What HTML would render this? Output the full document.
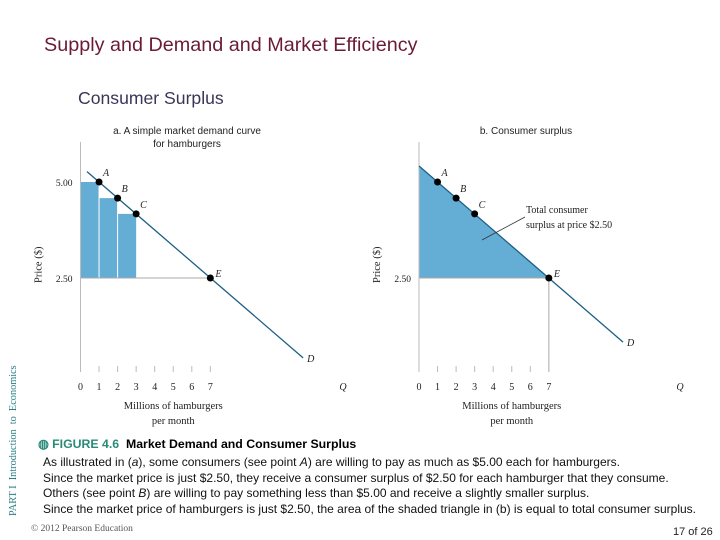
<!DOCTYPE html>
<html><head><meta charset="utf-8"><style>
body{margin:0;background:#fff;}
#wrap{position:relative;width:720px;height:540px;overflow:hidden;font-family:"Liberation Sans",sans-serif;}
.t{position:absolute;white-space:nowrap;}
</style></head><body>
<div id="wrap">
<div class="t" style="left:44px;top:34px;font-size:19.8px;color:#6b1a38;">Supply and Demand and Market Efficiency</div>
<div class="t" style="left:78px;top:88px;font-size:17.6px;color:#3b3558;">Consumer Surplus</div>
<div class="t" style="left:8px;top:516px;font-family:'Liberation Serif',serif;font-size:10.3px;color:#2a7f86;transform:rotate(-90deg);transform-origin:0 0;">PART I&nbsp; Introduction&nbsp; to&nbsp; Economics</div>
<svg id="chart" width="720" height="540" style="position:absolute;left:0;top:0"></svg>
<div class="t" style="left:38px;top:437px;font-size:12.3px;font-weight:bold;"><span style="color:#2a8a7a">◍ FIGURE 4.6</span>&nbsp; Market Demand and Consumer Surplus</div>
<div class="t" style="left:43px;top:455px;font-size:12px;line-height:15.6px;color:#111;">As illustrated in (<i>a</i>), some consumers (see point <i>A</i>) are willing to pay as much as $5.00 each for hamburgers.<br>Since the market price is just $2.50, they receive a consumer surplus of $2.50 for each hamburger that they consume.<br>Others (see point <i>B</i>) are willing to pay something less than $5.00 and receive a slightly smaller surplus.<br>Since the market price of hamburgers is just $2.50, the area of the shaded triangle in (b) is equal to total consumer surplus.</div>
<div class="t" style="left:31px;top:524px;font-family:'Liberation Serif',serif;font-size:9.5px;color:#555;">© 2012 Pearson Education</div>
<div class="t" style="left:673px;top:526px;font-size:11px;color:#222;">17 of 26</div>
</div>
<script>
const points=["A","B","C","E"];
const pointQ=[1,2,3,7];
const pointP=[5.00,4.58,4.17,2.50];
const marketPrice=2.50;
const xTicks=[0,1,2,3,4,5,6,7];
const yTickVals=[5.00,2.50];
const yTickLabels=["5.00","2.50"];
const demandStart=[0.35,5.27];
const demandEnd=[12,0.42];
const demandEndB=[11,0.83];
const NS="http://www.w3.org/2000/svg";
const svg=document.getElementById('chart');
function mk(tag,attrs,parent){const e=document.createElementNS(NS,tag);for(const k in attrs)e.setAttribute(k,attrs[k]);(parent||svg).appendChild(e);return e;}
function txt(x,y,s,attrs){const e=mk('text',Object.assign({x:x,y:y,'font-family':'Liberation Serif, serif','font-size':10,fill:'#222'},attrs||{}));e.textContent=s;return e;}
function panel(ox,name,isB){
  const X=q=>ox+q*18.55, Y=p=>374-p*38.4;
  const g=mk('g',{});
  
  
  if(!isB){
    for(let i=0;i<3;i++){
      const r=mk('rect',{x:X(i),y:Y(pointP[i]),width:X(i+1)-X(i),height:Y(marketPrice)-Y(pointP[i]),fill:'#64aed6'},g);
      
      
    }
    for(let i=1;i<3;i++) mk('line',{x1:X(i),x2:X(i),y1:Y(pointP[i-1]),y2:Y(marketPrice),stroke:'#fff','stroke-width':1},g);
  } else {
    const p0=demandStart[1]+(demandStart[0])*(pointP[0]-pointP[3])/(pointQ[3]-pointQ[0]);
    const tri=mk('polygon',{points:`${X(0)},${Y(p0)} ${X(pointQ[3])},${Y(marketPrice)} ${X(0)},${Y(marketPrice)}`,fill:'#64aed6'},g);
    
    
    mk('line',{x1:X(pointQ[3]),x2:X(pointQ[3]),y1:Y(marketPrice),y2:372,stroke:'#aaa','stroke-width':1},g);
  }
  mk('line',{x1:X(0),x2:X(pointQ[3]),y1:Y(marketPrice),y2:Y(marketPrice),stroke:'#aaa','stroke-width':1},g);
  const ya=mk('line',{x1:X(0),x2:X(0),y1:142,y2:372,stroke:'#bbb','stroke-width':1},g);
  
  
  xTicks.forEach(t=>{
    if(t>0) mk('line',{x1:X(t),x2:X(t),y1:366,y2:372,stroke:'#bbb'},g);
    const l=txt(X(t),390,String(t),{'text-anchor':'middle'});g.appendChild(l);
    
    
  });
  g.appendChild(txt(isB?680:343,390,'Q',{'font-style':'italic','text-anchor':'middle'}));
  yTickVals.forEach((v,i)=>{
    if(isB && i===0) return;
    const l=txt(X(0)-8,Y(v)+4,yTickLabels[i],{'text-anchor':'end','font-size':9.5});g.appendChild(l);
    
    
  });
  const yl=txt(0,0,'Price ($)',{transform:`translate(${X(0)-39},${Y(2.5)+5}) rotate(-90)`,'font-size':10.5});g.appendChild(yl);
  
  
  const xl1=txt(X(5),409,'Millions of hamburgers',{'text-anchor':'middle','font-size':10.5});g.appendChild(xl1);
  
  
  g.appendChild(txt(X(5),424,'per month',{'text-anchor':'middle','font-size':10.5}));
  const de=isB?demandEndB:demandEnd;
  const ds=isB?[0,demandStart[1]+demandStart[0]*(pointP[0]-pointP[3])/(pointQ[3]-pointQ[0])]:demandStart;
  const dl=mk('line',{x1:X(ds[0]),y1:Y(ds[1]),x2:X(de[0]),y2:Y(de[1]),stroke:'#1d5f86','stroke-width':1.3},g);
  
  
  g.appendChild(txt(X(de[0])+4,Y(de[1])+4,'D',{'font-style':'italic'}));
  points.forEach((n,i)=>{
    const c=mk('circle',{cx:X(pointQ[i]),cy:Y(pointP[i]),r:3.5,fill:'#000'},g);
    
    
    g.appendChild(txt(X(pointQ[i])+(i===3?5:4),Y(pointP[i])-(i===3?1:6),n,{'font-style':'italic'}));
  });
  if(!isB){
    g.appendChild(txt(187,134,'a. A simple market demand curve',{'text-anchor':'middle','font-family':'Liberation Sans, sans-serif','font-size':10}));
    g.appendChild(txt(187,147,'for hamburgers',{'text-anchor':'middle','font-family':'Liberation Sans, sans-serif','font-size':10}));
  } else {
    g.appendChild(txt(526,134,'b. Consumer surplus',{'text-anchor':'middle','font-family':'Liberation Sans, sans-serif','font-size':10}));
    g.appendChild(txt(526,213,'Total consumer',{'font-size':10}));
    g.appendChild(txt(526,228,'surplus at price $2.50',{'font-size':10}));
    mk('line',{x1:482,y1:240,x2:525,y2:217,stroke:'#333','stroke-width':0.8},g);
  }
}
panel(80.5,'panel-a',false);
panel(419,'panel-b',true);
</script>
</body></html>
